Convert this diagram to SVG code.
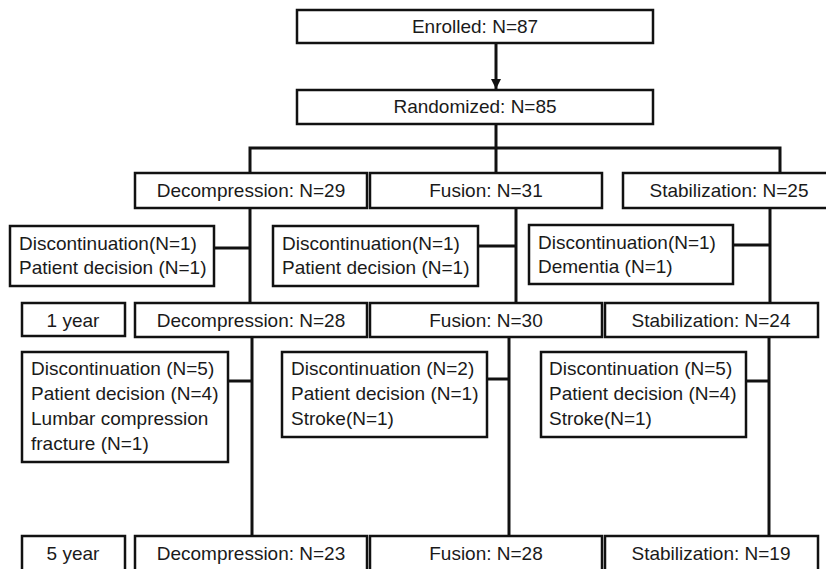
<svg xmlns="http://www.w3.org/2000/svg" width="826" height="569" viewBox="0 0 826 569">
<defs>
<style>
.b{fill:#fff;stroke:#111;stroke-width:2.5}
.t{font-family:"Liberation Sans",Arial,sans-serif;font-size:19px;fill:#1a1a1a}
.c{text-anchor:middle}
.l{fill:none;stroke:#111;stroke-width:3}
</style>
<marker id="ah" viewBox="0 0 10 10" refX="10" refY="5" markerWidth="10" markerHeight="10" markerUnits="userSpaceOnUse" orient="auto">
<path d="M0,0 L10,5 L0,10 z" fill="#111"/>
</marker>
</defs>
<rect width="826" height="569" fill="#fff"/>
<g id="connectors">
<line class="l" x1="496" y1="43" x2="496" y2="89" marker-end="url(#ah)"/>
<line class="l" x1="496" y1="124" x2="496" y2="148"/>
<polyline class="l" points="250,173 250,148 780,148 780,173"/>
<line class="l" x1="496" y1="148" x2="496" y2="173"/>
<line class="l" x1="250" y1="208" x2="250" y2="303"/>
<line class="l" x1="214" y1="248" x2="250" y2="248"/>
<line class="l" x1="516" y1="208" x2="516" y2="303"/>
<line class="l" x1="478" y1="246" x2="516" y2="246"/>
<line class="l" x1="770" y1="208" x2="770" y2="303"/>
<line class="l" x1="733" y1="245" x2="770" y2="245"/>
<line class="l" x1="252" y1="337" x2="252" y2="536"/>
<line class="l" x1="228" y1="381" x2="252" y2="381"/>
<line class="l" x1="509" y1="337" x2="509" y2="536"/>
<line class="l" x1="487" y1="379" x2="509" y2="379"/>
<line class="l" x1="769" y1="337" x2="769" y2="536"/>
<line class="l" x1="746" y1="381" x2="769" y2="381"/>
</g>
<g id="enrolled"><rect class="b" x="297" y="10" width="356" height="33"/><text class="t c" x="475" y="33">Enrolled: N=87</text></g>
<g id="randomized"><rect class="b" x="297" y="90" width="356" height="34"/><text class="t c" x="475" y="113">Randomized: N=85</text></g>
<g id="decomp29"><rect class="b" x="135" y="173" width="232" height="35"/><text class="t c" x="251" y="197">Decompression: N=29</text></g>
<g id="fusion31"><rect class="b" x="370" y="173" width="232" height="35"/><text class="t c" x="486" y="197">Fusion: N=31</text></g>
<g id="stab25"><rect class="b" x="623" y="173" width="210" height="35"/><text class="t c" x="729" y="197">Stabilization: N=25</text></g>
<g id="disc1a"><rect class="b" x="10" y="226" width="204" height="60"/><text class="t" x="19" y="250">Discontinuation(N=1)</text><text class="t" x="19" y="274">Patient decision (N=1)</text></g>
<g id="disc1b"><rect class="b" x="273" y="226" width="205" height="60"/><text class="t" x="282" y="250">Discontinuation(N=1)</text><text class="t" x="282" y="274">Patient decision (N=1)</text></g>
<g id="disc1c"><rect class="b" x="529" y="225" width="204" height="59"/><text class="t" x="538" y="249">Discontinuation(N=1)</text><text class="t" x="538" y="273">Dementia (N=1)</text></g>
<g id="year1"><rect class="b" x="22" y="303" width="103" height="33"/><text class="t c" x="73" y="327">1 year</text></g>
<g id="decomp28"><rect class="b" x="135" y="303" width="232" height="34"/><text class="t c" x="251" y="327">Decompression: N=28</text></g>
<g id="fusion30"><rect class="b" x="370" y="303" width="232" height="34"/><text class="t c" x="486" y="327">Fusion: N=30</text></g>
<g id="stab24"><rect class="b" x="605" y="303" width="213" height="34"/><text class="t c" x="711" y="327">Stabilization: N=24</text></g>
<g id="disc5a"><rect class="b" x="22" y="352" width="206" height="110"/><text class="t" x="31" y="375">Discontinuation (N=5)</text><text class="t" x="31" y="400">Patient decision (N=4)</text><text class="t" x="31" y="425">Lumbar compression</text><text class="t" x="31" y="450">fracture (N=1)</text></g>
<g id="disc2b"><rect class="b" x="282" y="352" width="205" height="85"/><text class="t" x="291" y="375">Discontinuation (N=2)</text><text class="t" x="291" y="400">Patient decision (N=1)</text><text class="t" x="291" y="425">Stroke(N=1)</text></g>
<g id="disc5c"><rect class="b" x="541" y="352" width="205" height="85"/><text class="t" x="549" y="375">Discontinuation (N=5)</text><text class="t" x="549" y="400">Patient decision (N=4)</text><text class="t" x="549" y="425">Stroke(N=1)</text></g>
<g id="year5"><rect class="b" x="22" y="536" width="103" height="40"/><text class="t c" x="73" y="560">5 year</text></g>
<g id="decomp23"><rect class="b" x="135" y="536" width="232" height="40"/><text class="t c" x="251" y="560">Decompression: N=23</text></g>
<g id="fusion28"><rect class="b" x="370" y="536" width="232" height="40"/><text class="t c" x="486" y="560">Fusion: N=28</text></g>
<g id="stab19"><rect class="b" x="605" y="536" width="213" height="40"/><text class="t c" x="711" y="560">Stabilization: N=19</text></g>
</svg>
